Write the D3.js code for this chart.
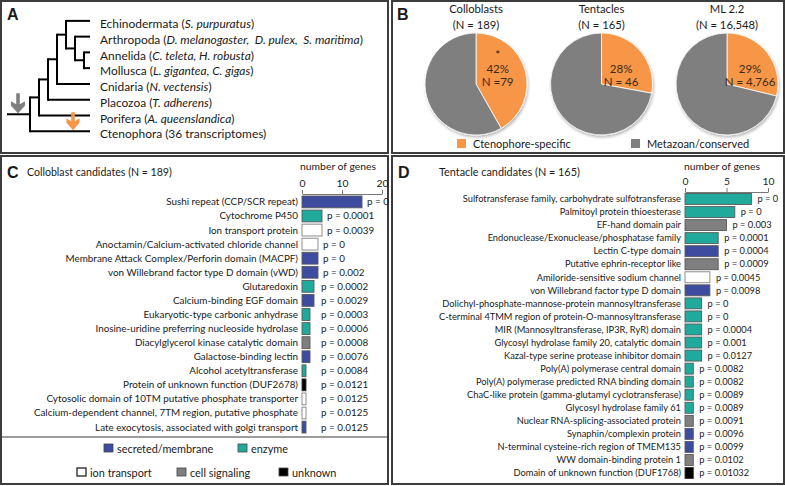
<!DOCTYPE html>
<html><head><meta charset="utf-8">
<script src="https://cdn.jsdelivr.net/npm/d3@7"></script>
<style>
body{margin:0;background:#fff}
svg{display:block}
text{font-family:Lato,"Liberation Sans",sans-serif;fill:#1a1a1a;white-space:pre}
</style>
</head><body>
<svg id="chart" width="785" height="486"></svg>
<script>
// ---------------- DATA ----------------
const cladeTree = [[[[["Echinodermata", ["Arthropoda", ["Annelida", "Mollusca"]]], "Cnidaria"], "Placozoa"], "Porifera"], "Ctenophora"];
const taxonNames = ["Echinodermata", "Arthropoda", "Annelida", "Mollusca", "Cnidaria", "Placozoa", "Porifera", "Ctenophora"];
const taxonSpecies = ["S. purpuratus", "D. melanogaster,  D. pulex,  S. maritima", "C. teleta, H. robusta", "L. gigantea, C. gigas", "N. vectensis", "T. adherens", "A. queenslandica", "36 transcriptomes"];
const taxonItalic = [true, true, true, true, true, true, true, false];

const pieTitles = ["Colloblasts", "Tentacles", "ML 2.2"];
const pieSubtitles = ["(N = 189)", "(N = 165)", "(N = 16,548)"];
const pieSpecific = [79, 46, 4766];
const pieTotal = [189, 165, 16548];
const piePercent = ["42%", "28%", "29%"];
const pieCountLabel = ["N =79", "N = 46", "N = 4,766"];
const pieStar = ["*", "", ""];
const pieLegend = ["Ctenophore-specific", "Metazoan/conserved"];

const colloLabels = ["Sushi repeat (CCP/SCR repeat)", "Cytochrome P450", "Ion transport protein", "Anoctamin/Calcium-activated chloride channel", "Membrane Attack Complex/Perforin domain (MACPF)", "von Willebrand factor type D domain (vWD)", "Glutaredoxin", "Calcium-binding EGF domain", "Eukaryotic-type carbonic anhydrase", "Inosine-uridine preferring nucleoside hydrolase", "Diacylglycerol kinase catalytic domain", "Galactose-binding lectin", "Alcohol acetyltransferase", "Protein of unknown function (DUF2678)", "Cytosolic domain of 10TM putative phosphate transporter", "Calcium-dependent channel, 7TM region, putative phosphate", "Late exocytosis, associated with golgi transport"];
const colloCounts = [15, 5, 5, 4, 4, 4, 3, 3, 2, 2, 2, 2, 1, 1, 1, 1, 1];
const colloP = ["p = 0", "p = 0.0001", "p = 0.0039", "p = 0", "p = 0", "p = 0.002", "p = 0.0002", "p = 0.0029", "p = 0.0003", "p = 0.0006", "p = 0.0008", "p = 0.0076", "p = 0.0084", "p = 0.0121", "p = 0.0125", "p = 0.0125", "p = 0.0125"];
const colloType = ["sec", "enz", "ion", "ion", "sec", "sec", "enz", "sec", "enz", "enz", "sig", "sec", "enz", "unk", "ion", "ion", "sec"];
const colloTicks = [0, 10, 20];

const tentLabels = ["Sulfotransferase family, carbohydrate sulfotransferase", "Palmitoyl protein thioesterase", "EF-hand domain pair", "Endonuclease/Exonuclease/phosphatase family", "Lectin C-type domain", "Putative ephrin-receptor like", "Amiloride-sensitive sodium channel", "von Willebrand factor type D domain", "Dolichyl-phosphate-mannose-protein mannosyltransferase", "C-terminal 4TMM region of protein-O-mannosyltransferase", "MIR (Mannosyltransferase, IP3R, RyR) domain", "Glycosyl hydrolase family 20, catalytic domain", "Kazal-type serine protease inhibitor domain", "Poly(A) polymerase central domain", "Poly(A) polymerase predicted RNA binding domain", "ChaC-like protein (gamma-glutamyl cyclotransferase)", "Glycosyl hydrolase family 61", "Nuclear RNA-splicing-associated protein", "Synaphin/complexin protein", "N-terminal cysteine-rich region of TMEM135", "WW domain-binding protein 1", "Domain of unknown function (DUF1768)"];
const tentCounts = [8, 6, 5, 4, 4, 4, 3, 3, 2, 2, 2, 2, 2, 1, 1, 1, 1, 1, 1, 1, 1, 1];
const tentP = ["p = 0", "p = 0", "p = 0.003", "p = 0.0001", "p = 0.0004", "p = 0.0009", "p = 0.0045", "p = 0.0098", "p = 0", "p = 0", "p = 0.0004", "p = 0.001", "p = 0.0127", "p = 0.0082", "p = 0.0082", "p = 0.0089", "p = 0.0089", "p = 0.0091", "p = 0.0096", "p = 0.0099", "p = 0.0102", "p = 0.01032"];
const tentType = ["enz", "enz", "sig", "enz", "sec", "sig", "ion", "sec", "enz", "enz", "enz", "enz", "enz", "enz", "enz", "enz", "enz", "sig", "sec", "sec", "sig", "unk"];
const tentTicks = [0, 5, 10];

const typeKeys = ["sec", "enz", "ion", "sig", "unk"];
const typeNames = ["secreted/membrane", "enzyme", "ion transport", "cell signaling", "unknown"];

// ---------------- STYLE / HELPERS ----------------
const typeColor = d3.scaleOrdinal().domain(typeKeys).range(["#3d4c9f", "#1faa9b", "#ffffff", "#7f7f7f", "#000000"]);
const typeStroke = d3.scaleOrdinal().domain(typeKeys).range(["#5a5a5a", "#5a5a5a", "#808080", "#5a5a5a", "#333333"]);
const pieColor = d3.scaleOrdinal().domain([0, 1]).range(["#f79646", "#7f7f7f"]);
const svg = d3.select("#chart");
const border = "#3c3c3c";

// font size so that the given sample texts get the target total pixel width
function fitSize(samples, target) {
  let w = 0;
  samples.forEach(s => {
    const t = svg.append("text").style("font-size", "20px").text(s);
    w += t.node().getComputedTextLength(); t.remove();
  });
  return 20 * target / w;
}

// panel frames
const frames = [[1, 1, 387, 152], [392, 1, 392, 152], [1, 156, 387, 328], [392, 156, 392, 328]];
svg.selectAll("rect.frame").data(frames).join("rect").attr("class", "frame")
  .attr("x", d => d[0]).attr("y", d => d[1]).attr("width", d => d[2]).attr("height", d => d[3])
  .attr("fill", "none").attr("stroke", border).attr("stroke-width", 2);
svg.append("line").attr("x1", 1).attr("x2", 388).attr("y1", 437).attr("y2", 437).attr("stroke", border).attr("stroke-width", 1.2);

const letters = [["A", 7, 20], ["B", 397, 20], ["C", 7, 178], ["D", 398, 178]];
svg.selectAll("text.letter").data(letters).join("text").attr("class", "letter")
  .attr("x", d => d[1]).attr("y", d => d[2]).text(d => d[0])
  .style("font-family", "'Liberation Sans',Arial,sans-serif").style("font-weight", "bold").style("font-size", "16px");

// ---------------- PANEL A: tree ----------------
const root = d3.hierarchy(cladeTree, d => Array.isArray(d) ? d : null);
d3.cluster().separation(() => 1).size([126, 1])(root);
const leafX = 90, rowTop = 13;
const depthX = d3.scaleLinear().domain([0, 6]).range([30, 84]);
root.each(n => { n.py = n.x + rowTop; n.px = n.children ? depthX(n.depth) : leafX; });
const gA = svg.append("g");
root.descendants().filter(n => n.children).forEach(n => {
  const ys = n.children.map(c => c.py);
  gA.append("line").attr("x1", n.px).attr("x2", n.px).attr("y1", d3.min(ys) - 1).attr("y2", d3.max(ys) + 1)
    .attr("stroke", "#000").attr("stroke-width", 2);
  n.children.forEach(c => gA.append("line").attr("x1", n.px).attr("x2", c.px).attr("y1", c.py).attr("y2", c.py)
    .attr("stroke", "#000").attr("stroke-width", 2));
});
gA.append("line").attr("x1", 7).attr("x2", root.px).attr("y1", root.py).attr("y2", root.py).attr("stroke", "#000").attr("stroke-width", 2);
const leaves = root.leaves();
const leafTexts = [];
leaves.forEach(lf => {
  const idx = taxonNames.indexOf(lf.data);
  const t = gA.append("text").attr("x", 100).attr("y", lf.py + 3).attr("dy", "0.35em").style("font-size", "20px");
  t.append("tspan").text(taxonNames[idx] + " (");
  t.append("tspan").style("font-style", taxonItalic[idx] ? "italic" : "normal").text(taxonSpecies[idx]);
  t.append("tspan").text(")");
  leafTexts.push([lf.data, t]);
});
const arthro = leafTexts.find(d => d[0] === "Arthropoda")[1];
const treeFs = 20 * 263 / arthro.node().getComputedTextLength();
leafTexts.forEach(d => d[1].style("font-size", treeFs + "px"));

function arrow(x, yTip, color, hw, len) {
  const p = d3.path();
  const sw = 1.8;
  p.moveTo(x - sw, yTip - len); p.lineTo(x + sw, yTip - len); p.lineTo(x + sw, yTip - 10);
  p.lineTo(x + hw, yTip - 13); p.lineTo(x + hw, yTip - 8.5); p.lineTo(x, yTip - 1);
  p.lineTo(x - hw, yTip - 8.5); p.lineTo(x - hw, yTip - 13); p.lineTo(x - sw, yTip - 10); p.closePath();
  gA.append("path").attr("d", p.toString()).attr("fill", color);
}
arrow(18, root.py, "#7f7f7f", 7, 21);
const cteno = leaves.find(l => l.data === "Ctenophora");
arrow(73, cteno.py, "#f79646", 6.5, 19);

// ---------------- PANEL B: pies ----------------
const defs = svg.append("defs");
const f = defs.append("filter").attr("id", "sh").attr("x", "-20%").attr("y", "-20%").attr("width", "140%").attr("height", "140%");
f.append("feGaussianBlur").attr("in", "SourceAlpha").attr("stdDeviation", 1.5);
f.append("feOffset").attr("dx", 1).attr("dy", 2).attr("result", "ob");
f.append("feComponentTransfer").append("feFuncA").attr("type", "linear").attr("slope", 0.28);
const fm = f.append("feMerge"); fm.append("feMergeNode"); fm.append("feMergeNode").attr("in", "SourceGraphic");

const pieCx = d3.scalePoint().domain(pieTitles).range([476, 727]);
const pieR = 51, pieCy = 84;
const pie = d3.pie().sort(null);
const arc = d3.arc().innerRadius(0).outerRadius(pieR);
const pieFs = fitSize(["(N = 16,548)"], 62);
pieTitles.forEach((t, i) => {
  const g = svg.append("g").attr("transform", `translate(${pieCx(t)},${pieCy})`);
  const vals = [pieSpecific[i], pieTotal[i] - pieSpecific[i]];
  const gp = g.append("g").attr("filter", "url(#sh)");
  gp.selectAll("path").data(pie(vals)).join("path").attr("d", arc)
    .attr("fill", (d, j) => pieColor(j)).attr("stroke", "#fff").attr("stroke-width", 0.8);
  g.append("text").attr("text-anchor", "middle").attr("y", -71).style("font-size", pieFs + "px").text(t);
  g.append("text").attr("text-anchor", "middle").attr("y", -55).style("font-size", pieFs + "px").text(pieSubtitles[i]);
  const c = arc.centroid(pie(vals)[0]);
  const lx = c[0] - 3 + i * 3;
  const lab = g.append("g").attr("transform", `translate(${lx},0)`);
  if (pieStar[i]) lab.append("text").attr("text-anchor", "middle").attr("y", -25).style("font-size", "11.5px").text(pieStar[i]);
  lab.append("text").attr("text-anchor", "middle").attr("y", -11).style("font-size", "11.5px").style("fill", "#3a2a1a").text(piePercent[i]);
  lab.append("text").attr("text-anchor", "middle").attr("y", 2).style("font-size", "11.5px").style("fill", "#3a2a1a").text(pieCountLabel[i]);
});
const legX = [457, 631];
const pieLegFs = fitSize(["Ctenophore-specific"], 98);
pieLegend.forEach((t, i) => {
  svg.append("rect").attr("x", legX[i]).attr("y", 139).attr("width", 9).attr("height", 9).attr("fill", pieColor(i));
  svg.append("text").attr("x", legX[i] + 16).attr("y", 148).style("font-size", pieLegFs + "px").text(t);
});

// ---------------- PANELS C & D: bars ----------------
function barPanel(o) {
  const g = svg.append("g");
  const x = d3.scaleLinear().domain([o.ticks[0], o.ticks[o.ticks.length - 1]]).range(o.xr);
  const y = d3.scaleBand().domain(o.labels).range(o.yr).paddingInner(0.16);
  const fs = fitSize(o.fitSamples, o.fitWidth);
  const tfs = fitSize([o.title], o.titleW);
  const nfs = fitSize(["number of genes"], 76);
  g.append("text").attr("x", o.titleX).attr("y", 176).style("font-size", tfs + "px").text(o.title);
  g.append("text").attr("x", o.ngX).attr("y", 170).attr("text-anchor", "middle").style("font-size", nfs + "px").text("number of genes");
  const ax = g.append("g").attr("transform", `translate(0,${o.axisY})`)
    .call(d3.axisTop(x).tickValues(o.ticks).tickSize(4).tickSizeOuter(0).tickPadding(3));
  ax.selectAll("path,line").attr("stroke", "#777");
  ax.selectAll("text").style("font-family", "Lato,sans-serif").style("font-size", nfs + "px").attr("fill", "#1a1a1a");
  g.selectAll("rect.bar").data(o.labels).join("rect").attr("class", "bar")
    .attr("x", x(0)).attr("y", d => y(d)).attr("height", y.bandwidth())
    .attr("width", (d, i) => x(o.counts[i]) - x(0))
    .attr("fill", (d, i) => typeColor(o.types[i])).attr("stroke", (d, i) => typeStroke(o.types[i])).attr("stroke-width", 0.9);
  g.selectAll("text.lab").data(o.labels).join("text").attr("class", "lab")
    .attr("x", x(0) - 4).attr("y", d => y(d) + y.bandwidth() / 2).attr("dy", "0.35em")
    .attr("text-anchor", "end").style("font-size", fs + "px").text(d => d);
  g.selectAll("text.p").data(o.labels).join("text").attr("class", "p")
    .attr("x", (d, i) => Math.max(x(o.counts[i]) + o.pOff, o.pMin))
    .attr("y", d => y(d) + y.bandwidth() / 2).attr("dy", "0.35em")
    .style("font-size", fs + "px").text((d, i) => o.p[i]);
}
barPanel({ labels: colloLabels, counts: colloCounts, p: colloP, types: colloType, ticks: colloTicks,
  xr: [302, 382], yr: [196, 433], axisY: 194, title: "Colloblast candidates (N = 189)", titleX: 27, titleW: 145, ngX: 338,
  fitSamples: ["Calcium-dependent channel, 7TM region, putative phosphate", "Membrane Attack Complex/Perforin domain (MACPF)"], fitWidth: 497,
  pOff: 5, pMin: 321 });
barPanel({ labels: tentLabels, counts: tentCounts, p: tentP, types: tentType, ticks: tentTicks,
  xr: [685, 768], yr: [193.5, 478.5], axisY: 192, title: "Tentacle candidates (N = 165)", titleX: 439, titleW: 141, ngX: 722,
  fitSamples: ["C-terminal 4TMM region of protein-O-mannosyltransferase", "Sulfotransferase family, carbohydrate sulfotransferase", "Dolichyl-phosphate-mannose-protein mannosyltransferase"], fitWidth: 700,
  pOff: 6, pMin: 0 });

// legend for C
const legPos = [[104, 449], [238, 449], [77, 473], [177, 473], [279, 473]];
const legFs = fitSize(typeNames, 300);
typeKeys.forEach((k, i) => {
  svg.append("rect").attr("x", legPos[i][0]).attr("y", legPos[i][1] - 5).attr("width", 9).attr("height", 8)
    .attr("fill", typeColor(k)).attr("stroke", k === "ion" ? "#222" : "#444").attr("stroke-width", k === "ion" ? 1.3 : 0.8);
  svg.append("text").attr("x", legPos[i][0] + 13).attr("y", legPos[i][1] + 4).style("font-size", legFs + "px").text(typeNames[i]);
});
</script>
</body></html>
